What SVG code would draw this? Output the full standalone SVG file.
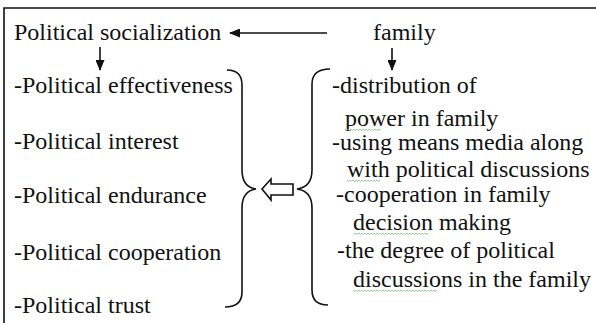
<svg xmlns="http://www.w3.org/2000/svg" width="596" height="323" viewBox="0 0 596 323" font-family="'Liberation Serif', 'DejaVu Serif', serif" font-size="24">
<defs>
<style>
text{fill:#111}
.ln{fill:none;stroke:#111;stroke-width:1.6}
.sq{fill:none;stroke:#7cc47c;stroke-width:0.8}
</style>
<marker id="ah" markerWidth="11" markerHeight="9" refX="10" refY="4.5" orient="auto" markerUnits="userSpaceOnUse">
<path d="M0,0 L11,4.5 L0,9 Z" fill="#111"/>
</marker>
</defs>
<rect x="0" y="0" width="596" height="323" fill="#fff"/>
<path class="ln" d="M4,330 L4,8 L600,8" stroke="#333"/>

<g id="socialization">
<text x="14" y="40">Political socialization</text>
</g>
<g id="family">
<text x="373" y="40">family</text>
</g>
<g id="outcomes">
<text x="14" y="93">-Political effectiveness</text>
<text x="14" y="149">-Political interest</text>
<text x="14" y="203">-Political endurance</text>
<text x="14" y="260">-Political cooperation</text>
<text x="14" y="313">-Political trust</text>
</g>
<g id="factors">
<text x="332" y="93">-distribution of</text>
<text x="345" y="126">power in family</text>
<text x="332" y="150">-using means media along</text>
<text x="347" y="177">with political discussions</text>
<text x="336" y="202">-cooperation in family</text>
<text x="353" y="230">decision making</text>
<text x="337" y="258">-the degree of political</text>
<text x="353" y="287">discussions in the family</text>
<path class="sq" d="M345,129 l1.5,1.5 l1.5,-1.5 l1.5,1.5 l1.5,-1.5 l1.5,1.5 l1.5,-1.5 l1.5,1.5 l1.5,-1.5 l1.5,1.5 l1.5,-1.5 l1.5,1.5 l1.5,-1.5 l1.5,1.5 l1.5,-1.5 l1.5,1.5 l1.5,-1.5 l1.5,1.5 l1.5,-1.5 l1.5,1.5 l1.5,-1.5 l1.5,1.5 l1.5,-1.5 l1.5,1.5 l1.5,-1.5"/>
<path class="sq" d="M347,180 l1.5,1.5 l1.5,-1.5 l1.5,1.5 l1.5,-1.5 l1.5,1.5 l1.5,-1.5 l1.5,1.5 l1.5,-1.5 l1.5,1.5 l1.5,-1.5 l1.5,1.5 l1.5,-1.5 l1.5,1.5 l1.5,-1.5 l1.5,1.5 l1.5,-1.5 l1.5,1.5 l1.5,-1.5 l1.5,1.5 l1.5,-1.5 l1.5,1.5 l1.5,-1.5"/>
<path class="sq" d="M353,233 l1.5,1.5 l1.5,-1.5 l1.5,1.5 l1.5,-1.5 l1.5,1.5 l1.5,-1.5 l1.5,1.5 l1.5,-1.5 l1.5,1.5 l1.5,-1.5 l1.5,1.5 l1.5,-1.5 l1.5,1.5 l1.5,-1.5 l1.5,1.5 l1.5,-1.5 l1.5,1.5 l1.5,-1.5 l1.5,1.5 l1.5,-1.5 l1.5,1.5 l1.5,-1.5 l1.5,1.5 l1.5,-1.5 l1.5,1.5 l1.5,-1.5 l1.5,1.5 l1.5,-1.5 l1.5,1.5 l1.5,-1.5 l1.5,1.5 l1.5,-1.5 l1.5,1.5 l1.5,-1.5 l1.5,1.5 l1.5,-1.5 l1.5,1.5 l1.5,-1.5 l1.5,1.5 l1.5,-1.5 l1.5,1.5 l1.5,-1.5 l1.5,1.5 l1.5,-1.5 l1.5,1.5 l1.5,-1.5 l1.5,1.5 l1.5,-1.5 l1.5,1.5 l1.5,-1.5"/>
<path class="sq" d="M353,290 l1.5,1.5 l1.5,-1.5 l1.5,1.5 l1.5,-1.5 l1.5,1.5 l1.5,-1.5 l1.5,1.5 l1.5,-1.5 l1.5,1.5 l1.5,-1.5 l1.5,1.5 l1.5,-1.5 l1.5,1.5 l1.5,-1.5 l1.5,1.5 l1.5,-1.5 l1.5,1.5 l1.5,-1.5 l1.5,1.5 l1.5,-1.5 l1.5,1.5 l1.5,-1.5 l1.5,1.5 l1.5,-1.5 l1.5,1.5 l1.5,-1.5 l1.5,1.5 l1.5,-1.5 l1.5,1.5 l1.5,-1.5 l1.5,1.5 l1.5,-1.5 l1.5,1.5 l1.5,-1.5 l1.5,1.5 l1.5,-1.5 l1.5,1.5 l1.5,-1.5 l1.5,1.5 l1.5,-1.5 l1.5,1.5 l1.5,-1.5 l1.5,1.5 l1.5,-1.5 l1.5,1.5 l1.5,-1.5 l1.5,1.5 l1.5,-1.5 l1.5,1.5 l1.5,-1.5 l1.5,1.5 l1.5,-1.5 l1.5,1.5 l1.5,-1.5 l1.5,1.5 l1.5,-1.5"/>
</g>

<g id="connectors">
<line class="ln" x1="327" y1="33" x2="230" y2="33" marker-end="url(#ah)"/>
<line class="ln" x1="100" y1="47" x2="100" y2="70" marker-end="url(#ah)"/>
<line class="ln" x1="392" y1="48" x2="392" y2="70" marker-end="url(#ah)"/>
<path class="ln" d="M227,70 Q242,70 242,85 L242,170 Q242,187 256,189 Q242,191 242,208 L242,292 Q242,307 225,307"/>
<path class="ln" d="M330,69 Q312,69 312,84 L312,170 Q312,187 297,189 Q312,191 312,208 L312,290 Q312,305 328,305"/>
<path class="ln" d="M262,189 L271,179 L271,184 L293,184 L293,195 L271,195 L271,200 Z" fill="#fff"/>
</g>
</svg>
